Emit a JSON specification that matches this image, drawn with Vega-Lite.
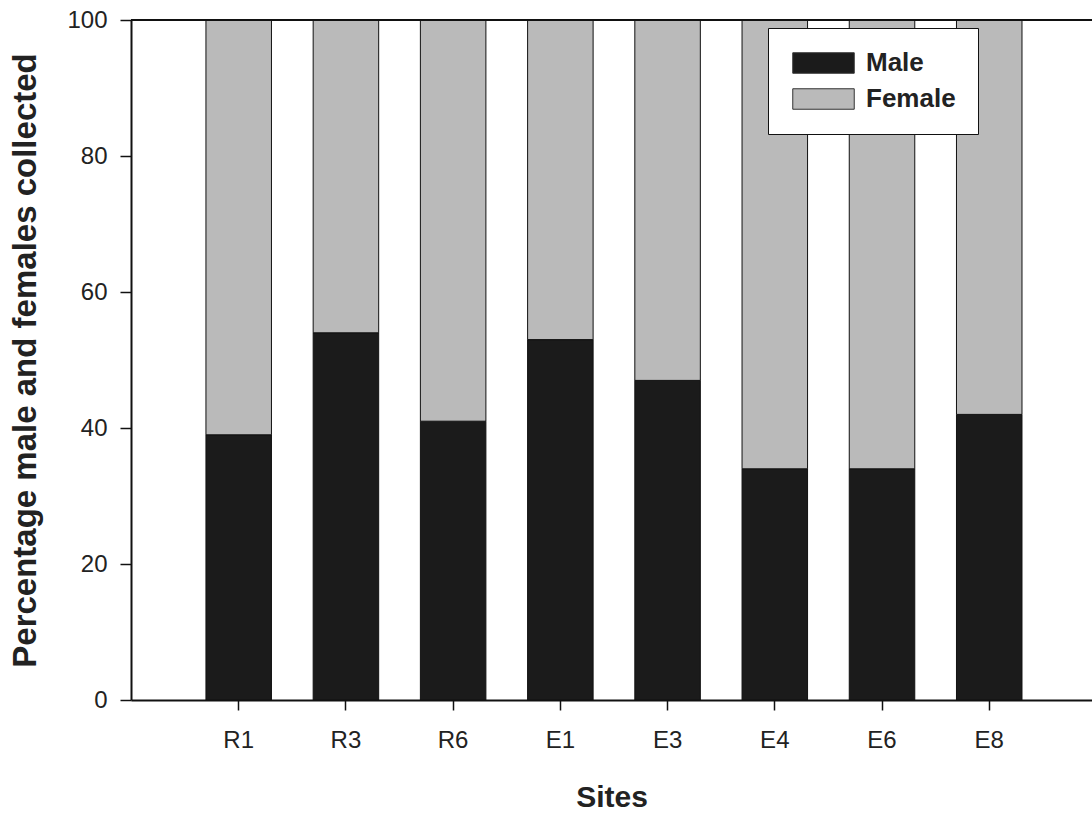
{
  "$schema": "https://vega.github.io/schema/vega-lite/v6.json",
  "autosize": {"type": "none"},
  "padding": {"left": 131, "top": 20, "right": 0, "bottom": 114},
  "width": 961,
  "height": 680,
  "background": "white",
  "config": {
    "view": {"stroke": null},
    "font": "Liberation Sans",
    "axis": {
      "domainColor": "#111111",
      "domainWidth": 2,
      "tickColor": "#111111",
      "tickWidth": 1.5,
      "labelFont": "Liberation Sans",
      "labelFontSize": 24,
      "labelColor": "#222222",
      "titleFont": "Liberation Sans",
      "titleFontWeight": "bold",
      "titleColor": "#222222",
      "grid": false
    }
  },
  "data": {
    "values": [
      {"site": "R1", "sex": "Male", "pct": 39},
      {"site": "R1", "sex": "Female", "pct": 61},
      {"site": "R3", "sex": "Male", "pct": 54},
      {"site": "R3", "sex": "Female", "pct": 46},
      {"site": "R6", "sex": "Male", "pct": 41},
      {"site": "R6", "sex": "Female", "pct": 59},
      {"site": "E1", "sex": "Male", "pct": 53},
      {"site": "E1", "sex": "Female", "pct": 47},
      {"site": "E3", "sex": "Male", "pct": 47},
      {"site": "E3", "sex": "Female", "pct": 53},
      {"site": "E4", "sex": "Male", "pct": 34},
      {"site": "E4", "sex": "Female", "pct": 66},
      {"site": "E6", "sex": "Male", "pct": 34},
      {"site": "E6", "sex": "Female", "pct": 66},
      {"site": "E8", "sex": "Male", "pct": 42},
      {"site": "E8", "sex": "Female", "pct": 58}
    ]
  },
  "layer": [
    {
      "mark": {"type": "bar", "stroke": "#111111", "strokeWidth": 1},
      "encoding": {
        "x": {
          "field": "site",
          "type": "nominal",
          "sort": ["R1", "R3", "R6", "E1", "E3", "E4", "E6", "E8"],
          "scale": {"paddingInner": 0.389, "paddingOuter": 0.676, "align": 0.517},
          "axis": {
            "title": "Sites",
            "titleFontSize": 30,
            "titlePadding": 30,
            "labelAngle": 0,
            "tickSize": 10,
            "labelPadding": 18
          }
        },
        "y": {
          "field": "pct",
          "type": "quantitative",
          "stack": "zero",
          "scale": {"domain": [0, 100], "nice": false},
          "axis": {
            "title": "Percentage male and females collected",
            "titleFontSize": 33,
            "titlePadding": 24,
            "values": [0, 20, 40, 60, 80, 100],
            "tickSize": 11,
            "labelPadding": 13
          }
        },
        "order": {"field": "sex", "sort": "descending"},
        "color": {
          "field": "sex",
          "type": "nominal",
          "scale": {"domain": ["Male", "Female"], "range": ["#1b1b1b", "#bababa"]},
          "legend": {
            "title": null,
            "orient": "none",
            "legendX": 637,
            "legendY": 8,
            "direction": "vertical",
            "fillColor": "white",
            "strokeColor": "#111111",
            "padding": 22,
            "symbolType": "M-1,-1H5V1H-1Z",
            "symbolSize": 420,
            "symbolStrokeColor": "#333333",
            "symbolStrokeWidth": 1,
            "labelOffset": 50,
            "labelFontSize": 26,
            "labelFontWeight": "bold",
            "labelColor": "#222222",
            "labelFont": "Liberation Sans",
            "rowPadding": 10
          }
        }
      }
    },
    {
      "mark": {"type": "rule", "color": "#111111", "strokeWidth": 2},
      "encoding": {"y": {"datum": 100}}
    }
  ]
}
